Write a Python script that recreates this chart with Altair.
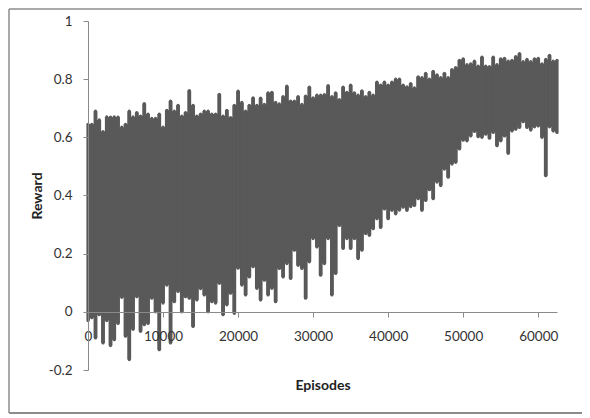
import altair as alt
import pandas as pd

# Episode positions (one sample every 500 episodes)
episodes = list(range(0, 62501, 500))

# Upper envelope of the reward trace
upper = [
    0.645, 0.645, 0.69, 0.66, 0.62, 0.67, 0.67, 0.67, 0.67, 0.635,
    0.645, 0.69, 0.67, 0.685, 0.673, 0.716, 0.68, 0.665, 0.665, 0.68,
    0.635, 0.693, 0.725, 0.69, 0.71, 0.673, 0.685, 0.761, 0.71, 0.673,
    0.68, 0.69, 0.69, 0.68, 0.68, 0.748, 0.673, 0.693, 0.668, 0.71,
    0.759, 0.72,
    0.69, 0.71, 0.736, 0.71, 0.735, 0.713, 0.753, 0.755, 0.72, 0.715,
    0.74, 0.776, 0.725, 0.725, 0.74, 0.713, 0.742, 0.773, 0.736, 0.745,
    0.745, 0.747, 0.778, 0.74, 0.753, 0.73, 0.773, 0.755, 0.78, 0.753,
    0.745, 0.76, 0.74, 0.755, 0.745, 0.79, 0.78, 0.79, 0.78, 0.79,
    0.80,
    0.80, 0.78, 0.774, 0.785, 0.77, 0.808, 0.805, 0.82, 0.80, 0.827,
    0.815, 0.805, 0.82, 0.805, 0.833, 0.84, 0.865, 0.87, 0.85, 0.853,
    0.862, 0.845, 0.876, 0.845, 0.843, 0.876, 0.85, 0.87, 0.872, 0.862,
    0.865, 0.878, 0.888, 0.86, 0.868, 0.86, 0.87, 0.872, 0.853, 0.868,
    0.882, 0.862, 0.865,
]

# Lower envelope of the reward trace
lower = [
    -0.03, -0.02, -0.09, -0.01, -0.107, -0.03, -0.116, -0.096, -0.04, 0.05,
    -0.084, -0.164, -0.06, 0.052, -0.067, -0.044, -0.04, 0.047, 0.0, -0.13,
    0.03, 0.092, -0.107, 0.035, 0.07, 0.0, 0.052, 0.047, -0.05, 0.041,
    0.08, 0.058, 0.0, 0.035, 0.03, 0.098, -0.01, 0.024, 0.064, -0.005,
    0.15, 0.092,
    0.058, 0.12, 0.155, 0.081, 0.041, 0.109, 0.058, 0.081, 0.035, 0.149,
    0.12, 0.166, 0.115, 0.212, 0.16, 0.149, 0.047, 0.172, 0.252, 0.223,
    0.126, 0.166, 0.252, 0.058, 0.132, 0.297, 0.218, 0.252, 0.218, 0.252,
    0.183, 0.212, 0.269, 0.263, 0.286, 0.32, 0.29, 0.354, 0.32, 0.349,
    0.337,
    0.35, 0.36, 0.349, 0.362, 0.366, 0.389, 0.349, 0.383, 0.42, 0.389,
    0.446, 0.434, 0.491, 0.463, 0.508, 0.514, 0.56, 0.59, 0.588, 0.605,
    0.62, 0.602, 0.6, 0.611, 0.597, 0.617, 0.571, 0.588, 0.605, 0.545,
    0.622, 0.628, 0.634, 0.654, 0.634, 0.625, 0.636, 0.639, 0.6, 0.468,
    0.636, 0.622, 0.617,
]

x_ticks = [0, 10000, 20000, 30000, 40000, 50000, 60000]
y_ticks = [-0.2, 0.0, 0.2, 0.4, 0.6, 0.8, 1.0]

df = pd.DataFrame({"Episodes": episodes, "low": lower, "high": upper})

FONT = "Lato"
AXIS_GRAY = "#8a8a8a"
TRACE = "#595959"
FRAME = "#8c8c8c"

x_enc = alt.X(
    "Episodes:Q",
    scale=alt.Scale(domain=[0, 62500], nice=False, zero=False),
    axis=alt.Axis(
        values=x_ticks, format="d", title="Episodes", offset=-58,
        grid=False, labelFlush=False, labelOverlap=False,
        domainColor=AXIS_GRAY, tickColor=AXIS_GRAY, tickSize=5,
        labelFont=FONT, labelFontSize=13.5, labelColor="#333333",
        labelPadding=12,
        titleFont=FONT, titleFontSize=14, titleFontWeight="bold",
        titleColor="#222222", titleY=77, titleBaseline="alphabetic",
        zindex=1,
    ),
)
y_enc = alt.Y(
    "low:Q",
    scale=alt.Scale(domain=[-0.2, 1.0], nice=False, zero=False),
    axis=alt.Axis(
        values=y_ticks, title="Reward", grid=False,
        labelExpr="'' + round(datum.value * 10) / 10",
        domainColor=AXIS_GRAY, tickColor=AXIS_GRAY, tickSize=5,
        labelFont=FONT, labelFontSize=13.5, labelColor="#333333",
        labelPadding=11,
        titleFont=FONT, titleFontSize=14, titleFontWeight="bold",
        titleColor="#222222", titleX=-47, titleY=174.5,
        titleAngle=270, titleBaseline="alphabetic", titleAlign="center",
        zindex=1,
    ),
)

base = alt.Chart(df)

band = base.mark_area(color=TRACE, interpolate="step", opacity=1).encode(
    x=x_enc, y=y_enc, y2="high:Q"
)

trace = base.mark_rule(color=TRACE, strokeWidth=3.2, strokeCap="round").encode(
    x="Episodes:Q", y="low:Q", y2="high:Q"
)

# chart frame (top, left and bottom edges; the right edge is off the page)
one = alt.Data(values=[{"k": 1}])
frame_top = alt.Chart(one).mark_rule(color=FRAME, strokeWidth=1.5, clip=False).encode(
    x=alt.value(-79), x2=alt.value(520), y=alt.value(-12)
)
frame_left = alt.Chart(one).mark_rule(color=FRAME, strokeWidth=1.5, clip=False).encode(
    x=alt.value(-79), y=alt.value(-12), y2=alt.value(392)
)
frame_bottom = alt.Chart(one).mark_rule(color=FRAME, strokeWidth=2, clip=False).encode(
    x=alt.value(-79), x2=alt.value(520), y=alt.value(392)
)

chart = alt.layer(frame_top, frame_left, frame_bottom, band, trace).properties(
    width=469,
    height=349,
    autosize="none",
    padding={"left": 80, "top": 13, "right": 25, "bottom": 45},
).configure_view(stroke=None)

chart.save("out.html", embed_options={"renderer": "svg", "actions": False})
